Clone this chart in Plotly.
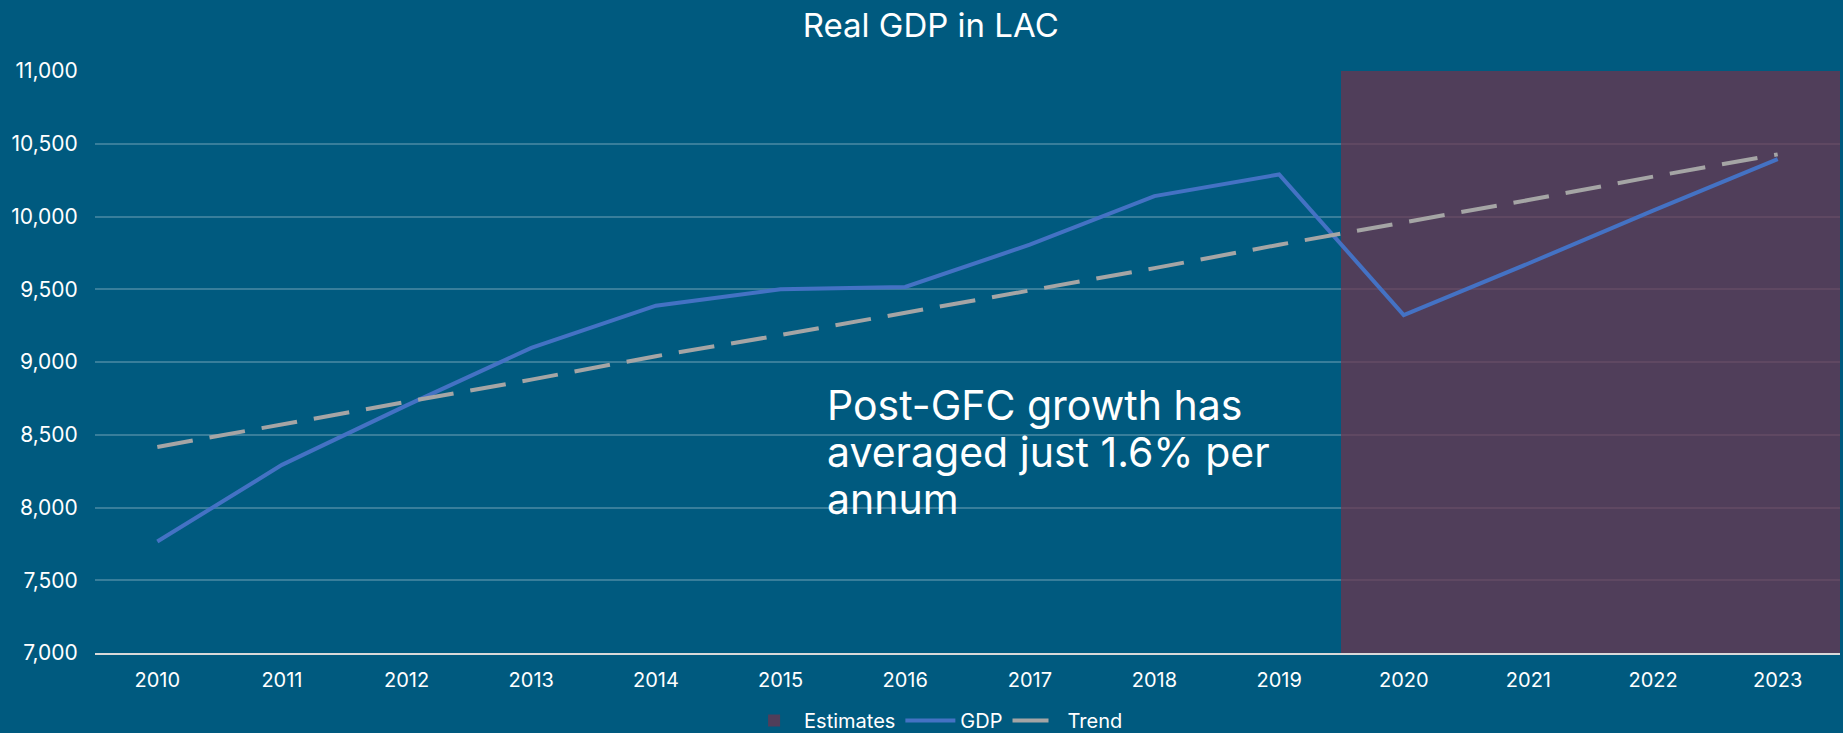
import plotly.graph_objects as go

years = [str(y) for y in range(2010, 2024)]
gdp = [7766, 8293, 8702, 9097, 9387, 9500, 9516, 9806, 10140, 10289, 9323, 9677, 10040, 10395]
trend = [8416, 8573, 8726, 8879, 9040, 9185, 9339, 9492, 9645, 9806, 9960, 10113, 10274, 10427]
estimate_years = ["2020", "2021", "2022", "2023"]
estimate_top = [11000, 11000, 11000, 11000]
y_ticks = [7000, 7500, 8000, 8500, 9000, 9500, 10000, 10500, 11000]
note_lines = ["Post-GFC growth has", "averaged just 1.6% per", "annum"]

BG = "#005A7F"
FONT = "Inter"

fig = go.Figure()
fig.add_trace(go.Bar(
    x=estimate_years, y=[v - 7000 for v in estimate_top], base=7000,
    name="Estimates", marker=dict(color="rgba(111,51,76,0.72)", line=dict(width=0)),
    hoverinfo="skip",
))
fig.add_trace(go.Scatter(
    x=years, y=gdp, name="GDP", mode="lines",
    line=dict(color="#4472C4", width=4),
))
fig.add_trace(go.Scatter(
    x=years, y=trend, name="Trend", mode="lines",
    line=dict(color="#A5A5A5", width=4, dash="36px,17px"),
))

for i, line in enumerate(note_lines):
    fig.add_annotation(
        xref="paper", yref="paper", x=0.4185, y=0.4253 - i * 0.0807,
        xanchor="left", yanchor="middle",
        text=line, showarrow=False, align="left",
        font=dict(family=FONT, size=41, color="white"),
    )

fig.update_layout(
    width=1843, height=733, autosize=False,
    paper_bgcolor=BG, plot_bgcolor=BG,
    margin=dict(l=95, r=3, t=71, b=80, autoexpand=False),
    bargap=0,
    font=dict(family=FONT, color="white", size=17),
    title=dict(text="Real GDP in LAC", x=0.505, xref="container", xanchor="center",
               y=0.965, yref="container", yanchor="middle",
               font=dict(family=FONT, size=33, color="white")),
    showlegend=True,
    legend=dict(orientation="h", x=0.482, xanchor="center",
                y=-0.116, yanchor="middle", font=dict(size=20, color="white"),
                bgcolor="rgba(0,0,0,0)", traceorder="normal", itemwidth=50),
    xaxis=dict(type="category", categoryorder="array", categoryarray=years,
               range=[-0.5, 13.5], autorange=False,
               showgrid=False, showline=True, linecolor="#D9D9D9", linewidth=2,
               ticks="outside", ticklen=8, tickcolor="rgba(0,0,0,0)",
               tickfont=dict(size=20, color="white"),
               zeroline=False),
    yaxis=dict(range=[7000, 11000], tickvals=y_ticks, tickformat=",",
               showgrid=True, gridcolor="rgba(255,255,255,0.22)", gridwidth=1.5,
               showline=False, zeroline=False, ticks="outside", ticklen=12,
               tickcolor="rgba(0,0,0,0)",
               tickfont=dict(size=21, color="white")),
)

fig.write_html("out.html")
